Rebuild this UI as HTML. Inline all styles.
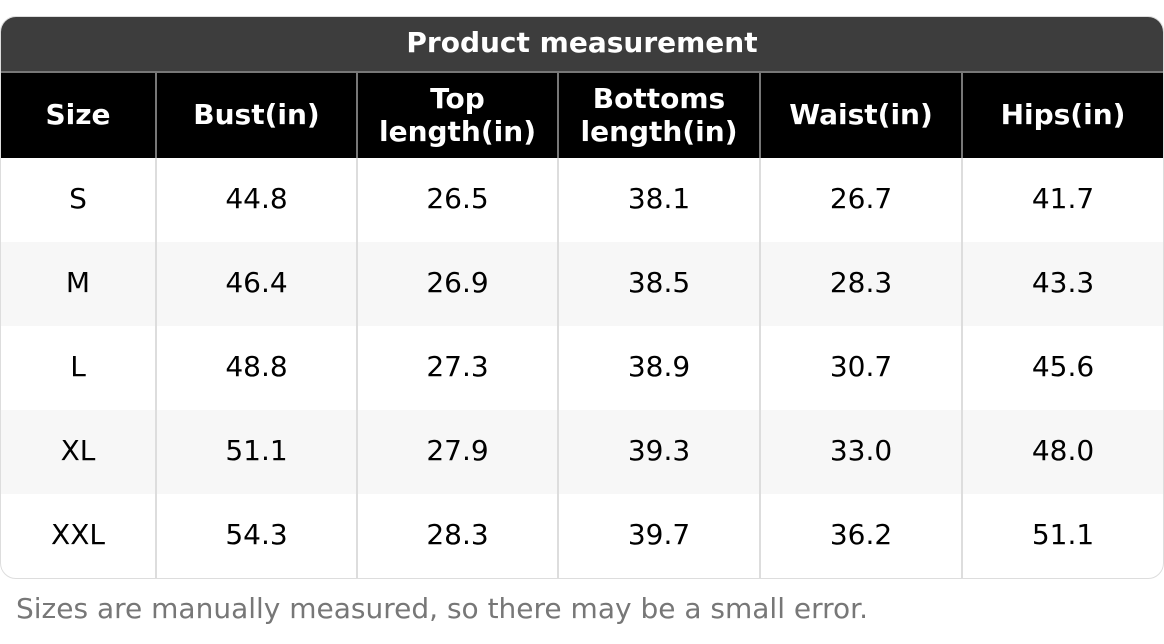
<!DOCTYPE html>
<html><head><meta charset="utf-8"><style>
*{margin:0;padding:0;box-sizing:border-box}
body{width:1164px;height:644px;background:#fff;font-family:"DejaVu Sans","Liberation Sans",sans-serif;position:relative;overflow:hidden}
#t{position:absolute;left:0;top:16px;width:1164px;height:563px;border:1px solid #ddd;border-radius:16px;overflow:hidden}
#title{height:56px;background:#3d3d3d;color:#fff;font-weight:bold;font-size:28px;text-align:center;line-height:52px;border-bottom:2px solid #777}
.row{display:flex;height:84px}
.row div{display:flex;align-items:center;justify-content:center;text-align:center;border-left:2px solid #ddd;font-size:28px;color:#000;line-height:33px;padding-bottom:3px}
.row div:first-child{border-left:none}
.h{height:85px;background:#000}
.h div{color:#fff;font-weight:bold;border-left-color:#777;padding-bottom:2px}
.alt{background:#f7f7f7}
.c0{width:154px}.c1{width:201px}.c2{width:201px}.c3{width:202px}.c4{width:202px}.c5{width:202px}
#foot{position:absolute;left:16px;top:592px;font-size:28px;color:#777}
</style></head><body>
<div id="t">
<div id="title">Product measurement</div>
<div class="row h"><div class="c0">Size</div><div class="c1">Bust(in)</div><div class="c2">Top<br>length(in)</div><div class="c3">Bottoms<br>length(in)</div><div class="c4">Waist(in)</div><div class="c5">Hips(in)</div></div>
<div class="row"><div class="c0">S</div><div class="c1">44.8</div><div class="c2">26.5</div><div class="c3">38.1</div><div class="c4">26.7</div><div class="c5">41.7</div></div>
<div class="row alt"><div class="c0">M</div><div class="c1">46.4</div><div class="c2">26.9</div><div class="c3">38.5</div><div class="c4">28.3</div><div class="c5">43.3</div></div>
<div class="row"><div class="c0">L</div><div class="c1">48.8</div><div class="c2">27.3</div><div class="c3">38.9</div><div class="c4">30.7</div><div class="c5">45.6</div></div>
<div class="row alt"><div class="c0">XL</div><div class="c1">51.1</div><div class="c2">27.9</div><div class="c3">39.3</div><div class="c4">33.0</div><div class="c5">48.0</div></div>
<div class="row"><div class="c0">XXL</div><div class="c1">54.3</div><div class="c2">28.3</div><div class="c3">39.7</div><div class="c4">36.2</div><div class="c5">51.1</div></div>
</div>
<div id="foot">Sizes are manually measured, so there may be a small error.</div>
</body></html>
